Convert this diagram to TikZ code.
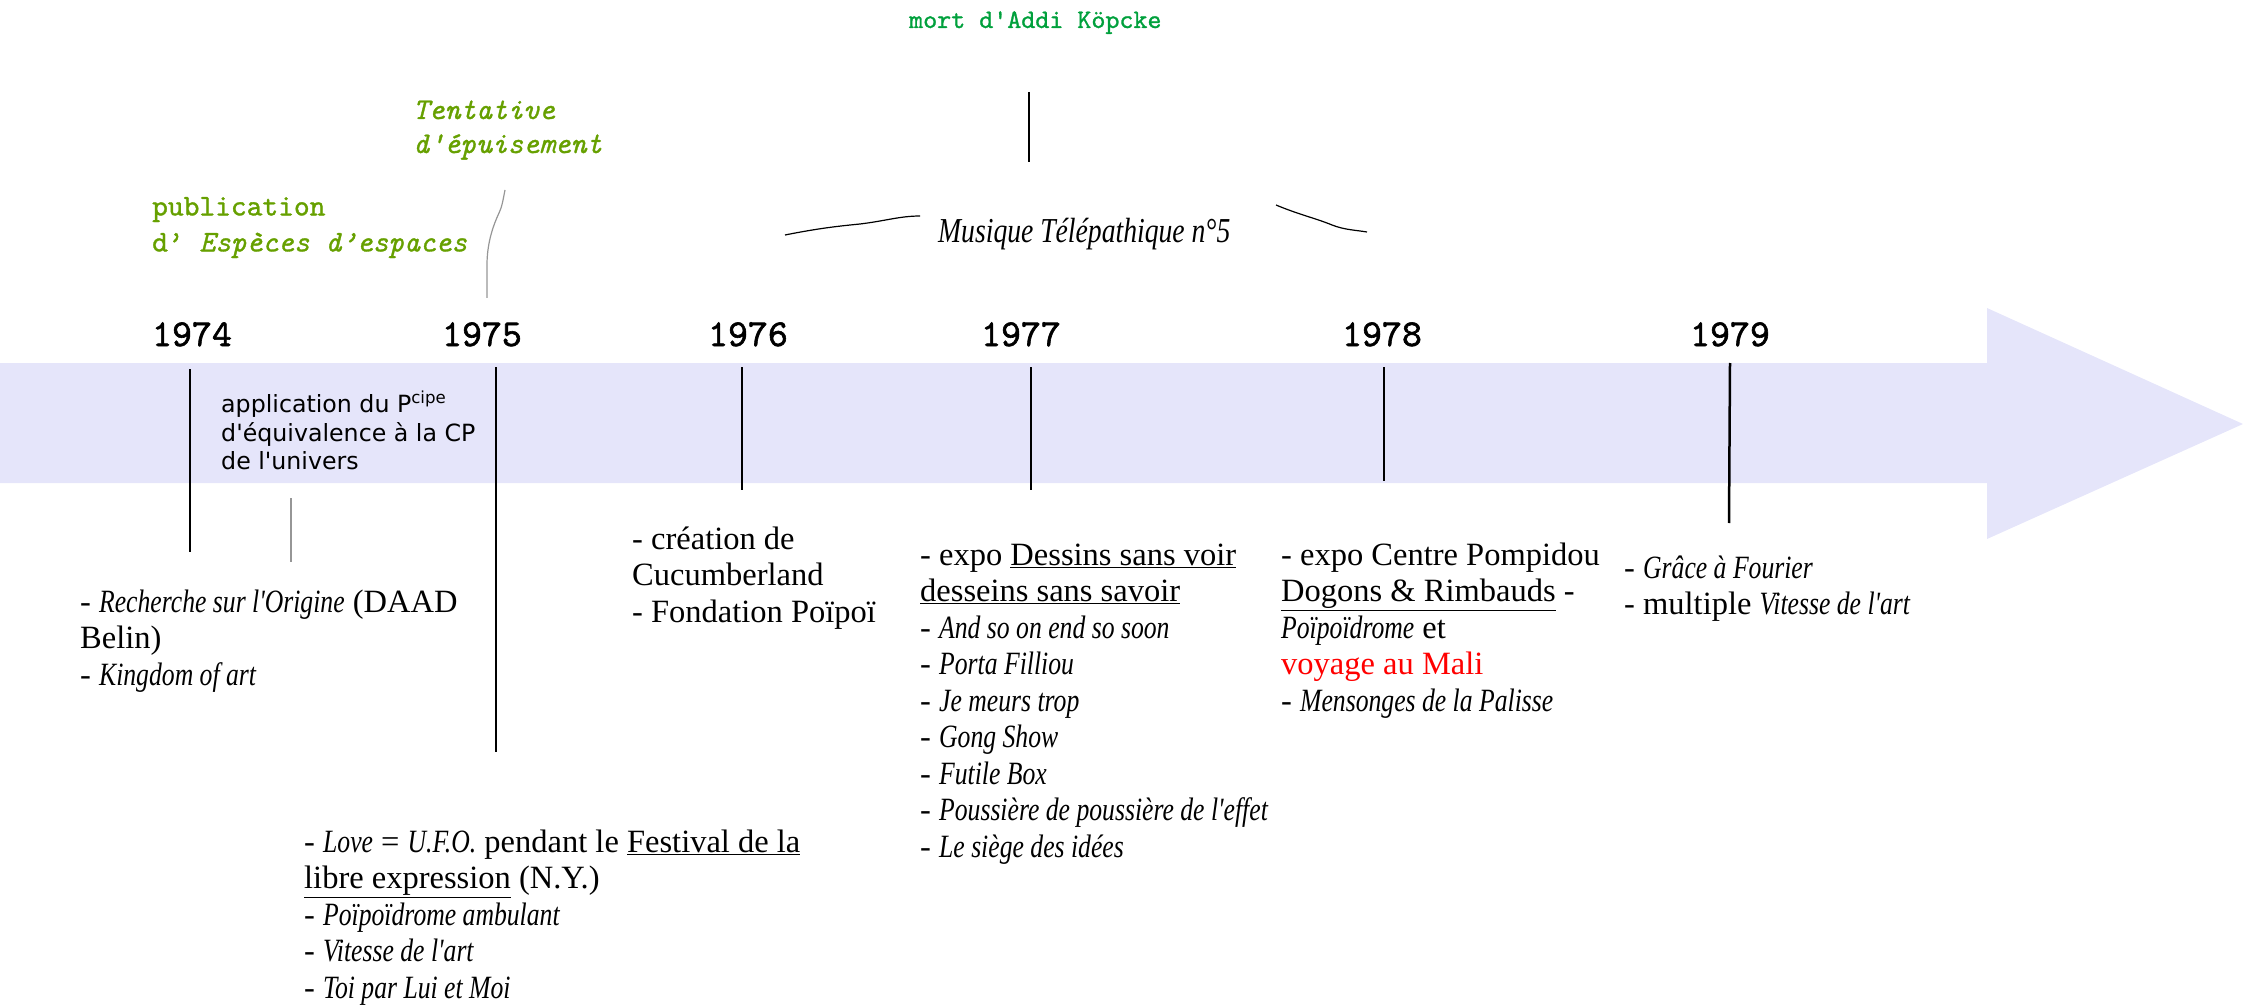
\documentclass[tikz,border=0pt]{standalone}
\usepackage{fontspec}
\setmainfont{Liberation Serif}[ItalicFeatures={FakeStretch=0.79}]
\newfontfamily\bodyfont{Liberation Serif}[ItalicFeatures={FakeStretch=0.79}]
\newfontfamily\dvsans{DejaVu Sans}
\newfontfamily\yearfont{lmmono10-regular.otf}[FakeBold=1.6]
\newfontfamily\twfont{lmmono10-regular.otf}[FakeBold=1.1, ItalicFont=lmmono10-italic.otf, ItalicFeatures={FakeBold=1.1}]
\definecolor{bandblue}{RGB}{229,229,250}
\definecolor{olivegr}{RGB}{102,160,0}
\definecolor{deepgr}{RGB}{0,160,60}
\definecolor{thingray}{RGB}{150,150,150}
\begin{document}
\begin{tikzpicture}[x=1pt,y=-1pt,
  body/.style={anchor=north west, inner sep=0pt, align=left, font=\bodyfont\fontsize{32.5}{36.5}\selectfont},
  yearlbl/.style={anchor=base, inner sep=0pt, font=\yearfont\fontsize{38}{40}\selectfont},
  greentw/.style={anchor=north west, inner sep=0pt, align=left, text=olivegr},
  tickline/.style={line width=2.5pt, black},
  thinline/.style={line width=1.2pt}]
\useasboundingbox (0,0) rectangle (2246,1008);
% timeline arrow
\fill[bandblue] (0,363) -- (1987,363) -- (1987,308) -- (2243,424) -- (1987,539) -- (1987,483) -- (0,483) -- cycle;
% years
\node[yearlbl] (y74) at (192,346) {1974};
\node[yearlbl] (y75) at (482,346) {1975};
\node[yearlbl] (y76) at (748,346) {1976};
\node[yearlbl] (y77) at (1021,346) {1977};
\node[yearlbl] (y78) at (1382,346) {1978};
\node[yearlbl] (y79) at (1730,346) {1979};
% tick lines
\coordinate (a74) at (190,369); \coordinate (b74) at (190,552);
\coordinate (a75) at (496,367); \coordinate (b75) at (496,752);
\coordinate (a76) at (742,367); \coordinate (b76) at (742,490);
\coordinate (a77) at (1031,367); \coordinate (b77) at (1031,490);
\coordinate (a78) at (1384,367); \coordinate (b78) at (1384,481);
\coordinate (a79) at (1730,363); \coordinate (b79) at (1729,523);
\draw[tickline] (a74) -- (b74);
\draw[tickline] (a75) -- (b75);
\draw[tickline] (a76) -- (b76);
\draw[tickline] (a77) -- (b77);
\draw[tickline] (a78) -- (b78);
\draw[tickline] (a79) -- (b79);
% small gray line
\coordinate (g1) at (291,498); \coordinate (g2) at (291,562);
\draw[thinline, thingray] (g1) -- (g2);
% sans text in band
\node[anchor=north west, inner sep=0pt, align=left, font=\dvsans\fontsize{23.7}{28.5}\selectfont] (prin) at (221,391)
  {\strut application du P\textsuperscript{cipe}\\d'équivalence à la CP\\de l'univers};
% green texts
\node[greentw, font=\twfont\fontsize{30}{36}\selectfont] (espaces) at (152,190)
  {\strut publication\\d’ \textit{Espèces d’espaces}};
\node[greentw, font=\twfont\fontsize{30}{34}\selectfont\itshape] (tentative) at (413,95)
  {\strut Tentative\\d'épuisement};
\node[anchor=base west, inner sep=0pt, text=deepgr, font=\twfont\fontsize{26.7}{30}\selectfont] (kopcke) at (909,28)
  {mort d'Addi Köpcke};
\coordinate (k1) at (1029,92); \coordinate (k2) at (1029,162);
\draw[thinline] (k1) -- (k2);
% tentative connector
\coordinate (t1) at (505,190); \coordinate (t2) at (487,298);
\draw[thinline, thingray] (t1) .. controls (503,200) and (502,207) .. (499,213)
  .. controls (492,228) and (487,245) .. (487,265) -- (t2);
% Musique telepathique
\node[anchor=base west, inner sep=0pt, font=\bodyfont\fontsize{35}{40}\selectfont\itshape] (musique) at (938,243)
  {Musique Télépathique n°5};
\coordinate (m1) at (785,235); \coordinate (m2) at (920,216);
\coordinate (m3) at (1276,205); \coordinate (m4) at (1367,232);
\draw[thinline] (m1) .. controls (820,228) and (840,226) .. (860,224)
  .. controls (885,221) and (900,216) .. (m2);
\draw[thinline] (m3) .. controls (1300,215) and (1315,218) .. (1332,225)
  .. controls (1345,230) and (1355,230) .. (m4);
% lower text blocks
\node[body] (b1974) at (80,586.5)
  {\strut - \textit{Recherche sur l'Origine} (DAAD\\Belin)\\- \textit{Kingdom of art}};
\node[body] (b1975) at (304,826.5)
  {\strut - \textit{Love} = \textit{U.F.O.} pendant le \underline{Festival de la}\\
   \underline{libre expression} (N.Y.)\\
   - \textit{Poïpoïdrome ambulant}\\
   - \textit{Vitesse de l'art}\\
   - \textit{Toi par Lui et Moi}};
\node[body] (b1976) at (632,523.5)
  {\strut - création de\\Cucumberland\\- Fondation Poïpoï};
\node[body] (b1977) at (920,539.5)
  {\strut - expo \underline{Dessins sans voir}\\
   \underline{desseins sans savoir}\\
   - \textit{And so on end so soon}\\
   - \textit{Porta Filliou}\\
   - \textit{Je meurs trop}\\
   - \textit{Gong Show}\\
   - \textit{Futile Box}\\
   - \textit{Poussière de poussière de l'effet}\\
   - \textit{Le siège des idées}};
\node[body] (b1978) at (1281,539.5)
  {\strut - expo Centre Pompidou\\
   \underline{Dogons \& Rimbauds} -\\
   \textit{Poïpoïdrome} et\\
   \textcolor{red}{voyage au Mali}\\
   - \textit{Mensonges de la Palisse}};
\node[body] (b1979) at (1624,552.5)
  {\strut - \textit{Grâce à Fourier}\\- multiple \textit{Vitesse de l'art}};
\end{tikzpicture}
\end{document}
